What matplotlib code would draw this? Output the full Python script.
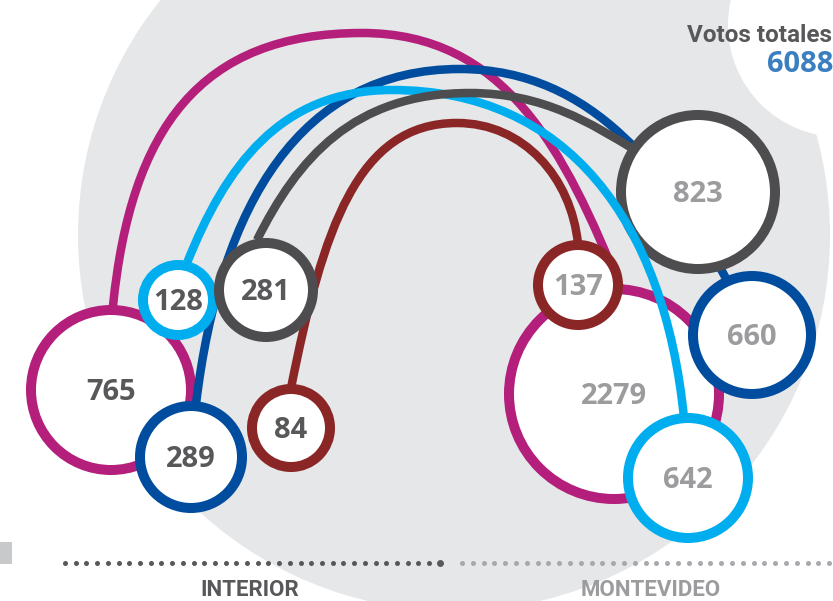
import matplotlib
matplotlib.use("Agg")
import matplotlib.pyplot as plt
from matplotlib.patches import Circle, PathPatch, Rectangle
from matplotlib.path import Path
import numpy as np

# ---------------- data ----------------
interior_votes = [765, 128, 289, 281, 84]
montevideo_votes = [2279, 642, 660, 823, 137]
party_colors = ["#B31F7B", "#00AEEF", "#004C9E", "#4D4D4F", "#8B2627"]
total_title = "Votos totales"
total_votes = sum(interior_votes) + sum(montevideo_votes)   # 6088
region_names = ["INTERIOR", "MONTEVIDEO"]

# ---------------- layout (pixel coordinates) ----------------
interior_xy = [(111, 390), (178, 300), (191, 457), (266, 290), (291, 428)]
interior_r = [85, 40, 56, 52, 44]
mvd_xy = [(614, 394), (688, 478), (752, 335), (698, 192), (578, 285)]
mvd_r = [110, 65, 64, 82, 45]

arc_peak = [(362, 33), (392, 90), (460, 69), (470, 93), (457, 123)]
arc_left_end = [(113, 306), (187, 263), (196, 404), (257, 240), (291, 388)]
arc_left_shape = [(0.65, 0.10), (0.55, 0.40), (0.60, 0.12), (0.55, 0.50), (0.60, 0.20)]
arc_right_end = [(621, 290), (684, 418), (728, 282), (635, 150), (578, 244)]
arc_right_shape = [(0.55, 0.40), (0.60, 0.10), (0.50, 0.55), (0.45, 1.67), (0.55, 0.10)]
arc_z = [2, 6, 4, 7, 8]
interior_z = [3, 9, 9, 9, 9]
mvd_z = [3, 9, 9, 5, 9]

BG = "#E6E7E8"
DARK_TXT = "#58585A"
LIGHT_TXT = "#9C9C9F"
BLUE_TXT = "#3B7FC0"

W, H = 833, 601
fig = plt.figure(figsize=(W / 100, H / 100), dpi=100)
ax = fig.add_axes([0, 0, 1, 1])
ax.set_xlim(0, W)
ax.set_ylim(H, 0)
ax.axis("off")

px = 72 / 100.0
ARC_LW = 8.5 * px
RING_LW = 10 * px

# background shapes
ax.add_patch(Circle((454, 235), 376, fc=BG, ec="none", zorder=0))
ax.add_patch(Circle((840, 25), 112, fc="white", ec="none", zorder=0.5))
ax.add_patch(Rectangle((0, 542), 12, 22, fc="#C8C9CA", ec="none", zorder=0.5))


def arc_path(EL, P, ER, shL, shR):
    kL, tL = shL
    kR, tR = shR
    aL, bL = P[0] - EL[0], EL[1] - P[1]
    aR, bR = ER[0] - P[0], ER[1] - P[1]
    c1 = (EL[0] + tL * kL * bL, EL[1] - kL * bL)
    c2 = (P[0] - kL * aL, P[1])
    c3 = (P[0] + kR * aR, P[1])
    c4 = (ER[0] - tR * kR * bR, ER[1] - kR * bR)
    verts = [EL, c1, c2, P, c3, c4, ER]
    codes = [Path.MOVETO] + [Path.CURVE4] * 6
    return Path(verts, codes)


for i, col in enumerate(party_colors):
    p = arc_path(arc_left_end[i], arc_peak[i], arc_right_end[i],
                 arc_left_shape[i], arc_right_shape[i])
    ax.add_patch(PathPatch(p, fc="none", ec=col, lw=ARC_LW,
                           capstyle="butt", joinstyle="round", zorder=arc_z[i]))

num_font = dict(family=["Open Sans", "DejaVu Sans"], weight="bold", fontsize=21)
size_px = 21 / px
for i, col in enumerate(party_colors):
    (x, y), r = interior_xy[i], interior_r[i]
    ax.add_patch(Circle((x, y), r - 5, fc="white", ec=col, lw=RING_LW, zorder=interior_z[i]))
    ax.text(x, y + 0.357 * size_px, f"{interior_votes[i]}", ha="center", va="baseline",
            color=DARK_TXT, zorder=interior_z[i] + 0.1, **num_font)
    (x, y), r = mvd_xy[i], mvd_r[i]
    ax.add_patch(Circle((x, y), r - 5, fc="white", ec=col, lw=RING_LW, zorder=mvd_z[i]))
    ax.text(x, y + 0.357 * size_px, f"{montevideo_votes[i]}", ha="center", va="baseline",
            color=LIGHT_TXT, zorder=mvd_z[i] + 0.1, **num_font)

# totals
cond = dict(family=["Roboto", "DejaVu Sans"], weight="bold")
ax.text(832, 42, total_title, ha="right", va="baseline", color=DARK_TXT,
        fontsize=17.5, zorder=12, **cond)
ax.text(833, 72, f"{total_votes}", ha="right", va="baseline", color=BLUE_TXT,
        zorder=12, **num_font)

# dotted baseline
xl = 65 + np.arange(36) * 10.71
xr = 462 + np.arange(35) * 10.8
ax.scatter(xl[:-1], np.full(len(xl) - 1, 563), s=13, color="#58595B", lw=0, zorder=12)
ax.scatter(xl[-1:], [563], s=25, color="#58595B", lw=0, zorder=12)
ax.scatter(xr, np.full(len(xr), 563), s=13, color="#A7A9AC", lw=0, zorder=12)

ax.text(249.5, 596.5, region_names[0], ha="center", va="baseline", color=DARK_TXT,
        fontsize=16, zorder=12, **cond)
ax.text(651, 596.5, region_names[1], ha="center", va="baseline", color=LIGHT_TXT,
        fontsize=16, zorder=12, **cond)

fig.savefig("out.png", dpi=100)
